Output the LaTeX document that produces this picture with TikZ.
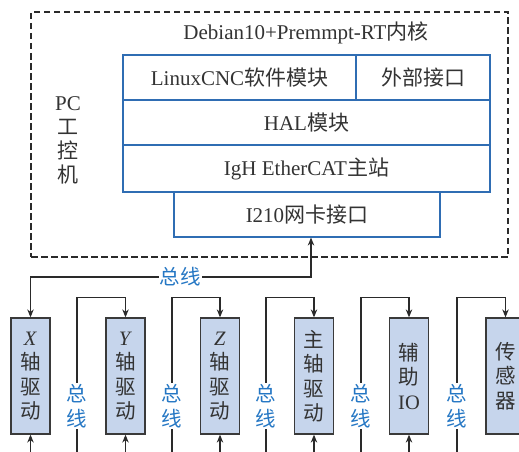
\documentclass[tikz,border=0pt]{standalone}
\usepackage{fontspec}
\setmainfont{Liberation Serif}
\newfontfamily\cjk{Noto Sans CJK SC}
\newcommand{\zh}[1]{{\cjk #1}}
\usetikzlibrary{arrows.meta}
\definecolor{layerblue}{HTML}{2F6DB3}
\definecolor{devfill}{HTML}{C6D5EC}
\definecolor{devborder}{HTML}{3A3A3A}
\definecolor{textgray}{HTML}{333333}
\definecolor{busblue}{HTML}{2577C4}
\definecolor{linegray}{HTML}{2A2A2A}
\begin{document}
\begin{tikzpicture}[x=1pt,y=-1pt,
 layer/.style={draw=layerblue, line width=1.2pt, inner sep=0pt, text=textgray, font=\fontsize{21}{24}\selectfont},
 dev/.style={draw=devborder, fill=devfill, line width=1.3pt, minimum width=39pt, minimum height=116pt, inner sep=0pt, align=center, text=textgray, font=\fontsize{20.5}{24.5}\selectfont},
 conn/.style={draw=linegray, line width=1.1pt},
 tip/.style={-{Stealth[length=8pt,width=6.5pt]}},
 buslbl/.style={text=busblue, fill=white, inner sep=1pt, align=center, font=\fontsize{20.5}{24.5}\selectfont},
 plain/.style={text=textgray, inner sep=0pt, align=center, font=\fontsize{21}{24}\selectfont}
]
\useasboundingbox (0,0) rectangle (519,452);

% PC box
\node[draw=linegray, dash pattern=on 6.5pt off 3.5pt, line width=1.25pt, minimum width=477pt, minimum height=245pt, inner sep=0pt] (pc) at (269.5,134.5) {};
\node[plain] (title) at (306,33) {Debian10+Premmpt-RT\zh{内核}};
\node[plain] (pclbl) at (68,140) {PC\\\zh{工}\\\zh{控}\\\zh{机}};

% layers
\node[layer, minimum width=233pt, minimum height=45pt] (linux) at (239.5,77.5) {LinuxCNC\zh{软件模块}};
\node[layer, minimum width=134pt, minimum height=45pt] (ext) at (423,77.5) {\zh{外部接口}};
\node[layer, minimum width=367pt, minimum height=45pt] (hal) at (306.5,122.5) {HAL\zh{模块}};
\node[layer, minimum width=367pt, minimum height=47pt] (igh) at (306.5,168.5) {IgH EtherCAT\zh{主站}};
\node[layer, minimum width=266pt, minimum height=45pt] (i210) at (307,214.5) {I210\zh{网卡接口}};

% devices
\node[dev] (xd) at (30.5,376) {\textit{X}\\\zh{轴}\\\zh{驱}\\\zh{动}};
\node[dev] (yd) at (125.5,376) {\textit{Y}\\\zh{轴}\\\zh{驱}\\\zh{动}};
\node[dev] (zd) at (220,376) {\textit{Z}\\\zh{轴}\\\zh{驱}\\\zh{动}};
\node[dev] (sd) at (314,376) {\zh{主}\\\zh{轴}\\\zh{驱}\\\zh{动}};
\node[dev] (io) at (409,376) {\zh{辅}\\\zh{助}\\IO};
\node[dev] (sen) at (505.5,376) {\zh{传}\\\zh{感}\\\zh{器}};

% main bus
\coordinate (busR) at (311,277);
\draw[conn,{Stealth[length=8pt,width=6.5pt]}-{Stealth[length=8pt,width=6.5pt]}] (xd.north) |- (busR) -- (busR |- i210.south);
\node[buslbl] (mainbus) at (180,277) {\zh{总线}};

% chain buses
\coordinate (b1) at (77,452);
\coordinate (b2) at (172,452);
\coordinate (b3) at (266,452);
\coordinate (b4) at (361,452);
\coordinate (b5) at (457,452);
\draw[conn,tip] (b1) |- ([yshift=20pt]yd.north) -- (yd.north);
\draw[conn,tip] (b2) |- ([yshift=20pt]zd.north) -- (zd.north);
\draw[conn,tip] (b3) |- ([yshift=20pt]sd.north) -- (sd.north);
\draw[conn,tip] (b4) |- ([yshift=20pt]io.north) -- (io.north);
\draw[conn,tip] (b5) |- ([yshift=20pt]sen.north) -- (sen.north);
\node[buslbl] (l1) at (77,406) {\zh{总}\\\zh{线}};
\node[buslbl] (l2) at (172,406) {\zh{总}\\\zh{线}};
\node[buslbl] (l3) at (266,406) {\zh{总}\\\zh{线}};
\node[buslbl] (l4) at (361,406) {\zh{总}\\\zh{线}};
\node[buslbl] (l5) at (457,406) {\zh{总}\\\zh{线}};

% incoming arrows at bottom
\draw[conn,tip] ([yshift=-18pt]xd.south) -- (xd.south);
\draw[conn,tip] ([yshift=-18pt]yd.south) -- (yd.south);
\draw[conn,tip] ([yshift=-18pt]zd.south) -- (zd.south);
\draw[conn,tip] ([yshift=-18pt]sd.south) -- (sd.south);
\draw[conn,tip] ([yshift=-18pt]io.south) -- (io.south);
\end{tikzpicture}
\end{document}
